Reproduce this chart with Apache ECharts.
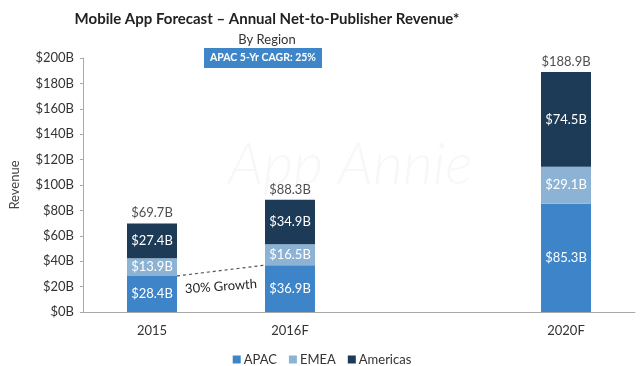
<!DOCTYPE html>
<html>
<head>
<meta charset="utf-8">
<script src="https://cdn.jsdelivr.net/npm/echarts@6/dist/echarts.min.js"></script>
<style>html,body{margin:0;padding:0;background:#fff;}#c{width:644px;height:366px;}</style>
</head>
<body>
<div id="c"></div>
<script>
var categories = ['2015', '2016F', '', '2020F'];
var apac = [28.4, 36.9, null, 85.3];
var emea = [13.9, 16.5, null, 29.1];
var americas = [27.4, 34.9, null, 74.5];
var totals = [69.7, 88.3, null, 188.9];
var yTicks = [0, 20, 40, 60, 80, 100, 120, 140, 160, 180, 200];

var FONT = 'Lato';
var BAR_W = 50;
var chart = echarts.init(document.getElementById('c'));

function fmt(p) { return p.value == null ? '' : '$' + p.value.toFixed(1) + 'B'; }
function inner() {
  return { show: true, position: 'inside', color: '#fff', fontFamily: FONT, fontSize: 13, formatter: fmt };
}

var baseGraphics = [
  { type: 'text', left: 228, top: 136, z: -10, silent: true,
    style: { text: 'App Annie', fontFamily: FONT, fontStyle: 'italic', fontWeight: 300, fontSize: 58, fill: 'rgba(0,0,0,0.03)' } },
  { type: 'group', left: 204, top: 48, children: [
    { type: 'rect', shape: { x: 0, y: 0, width: 118, height: 20 }, style: { fill: '#3f86c8' } },
    { type: 'text', x: 59, y: 10, style: { text: 'APAC 5-Yr CAGR: 25%', fill: '#fff', fontFamily: FONT, fontWeight: 'bold', fontSize: 10.5, align: 'center', verticalAlign: 'middle' } }
  ] }
];

var option = {
  backgroundColor: '#fff',
  animation: false,
  title: [
    { text: 'Mobile App Forecast \u2013 Annual Net-to-Publisher Revenue*', left: 262, top: 7, textAlign: 'center',
      textStyle: { fontFamily: FONT, fontWeight: 'bold', fontSize: 15, color: '#222' } },
    { text: 'By Region', left: 262, top: 28, textAlign: 'center',
      textStyle: { fontFamily: FONT, fontWeight: 'normal', fontSize: 13, color: '#333' } }
  ],
  legend: {
    data: ['APAC', 'EMEA', 'Americas'], top: 348, left: 'center', icon: 'rect',
    itemWidth: 8, itemHeight: 8, itemGap: 12,
    textStyle: { fontFamily: FONT, fontSize: 13, color: '#333', padding: [0, 0, 0, -2] }
  },
  grid: { left: 82, right: 9, top: 58, bottom: 54 },
  xAxis: {
    type: 'category', data: categories,
    axisLine: { lineStyle: { color: '#aaa' } }, axisTick: { show: false },
    axisLabel: { fontFamily: FONT, fontSize: 13, color: '#333', margin: 12 }
  },
  yAxis: {
    type: 'value', min: yTicks[0], max: yTicks[yTicks.length - 1], interval: 20,
    name: 'Revenue', nameLocation: 'middle', nameGap: 62, nameRotate: 90,
    nameTextStyle: { fontFamily: FONT, fontSize: 13, color: '#444' },
    axisLine: { show: true, lineStyle: { color: '#aaa' } },
    axisTick: { show: true, length: 3, lineStyle: { color: '#aaa' } },
    splitLine: { show: false },
    axisLabel: { fontFamily: FONT, fontSize: 13, color: '#333', margin: 9,
      formatter: function (v) { return '$' + v + 'B'; } }
  },
  series: [
    { name: 'APAC', type: 'bar', stack: 'r', data: apac, barWidth: BAR_W,
      itemStyle: { color: '#3d85c8' }, label: inner() },
    { name: 'EMEA', type: 'bar', stack: 'r', data: emea, barWidth: BAR_W,
      itemStyle: { color: '#8db3d4' }, label: inner() },
    { name: 'Americas', type: 'bar', stack: 'r', data: americas, barWidth: BAR_W,
      itemStyle: { color: '#1d3a56' }, label: inner() },
    { name: 'Total', type: 'scatter', data: totals, symbolSize: 0, silent: true,
      label: { show: true, position: 'top', distance: 4, color: '#222', fontFamily: FONT, fontSize: 13, formatter: fmt } }
  ],
  graphic: baseGraphics
};
chart.setOption(option);

// dashed growth line between APAC tops of 2015 and 2016F
var p1 = chart.convertToPixel({ seriesIndex: 0 }, [0, apac[0]]);
var p2 = chart.convertToPixel({ seriesIndex: 0 }, [1, apac[1]]);
var x1 = p1[0] + BAR_W / 2, x2 = p2[0] - BAR_W / 2;
var ang = Math.atan2(p1[1] - p2[1], x2 - x1);
chart.setOption({
  graphic: baseGraphics.concat([
    { type: 'line', shape: { x1: x1, y1: p1[1], x2: x2, y2: p2[1] },
      style: { stroke: '#555', lineWidth: 1.2, lineDash: [3, 3] } },
    { type: 'text', x: (x1 + x2) / 2, y: (p1[1] + p2[1]) / 2 + 16, rotation: ang * 0.6,
      style: { text: '30% Growth', fill: '#222', fontFamily: FONT, fontSize: 13, align: 'center', verticalAlign: 'middle' } }
  ])
}, { replaceMerge: ['graphic'] });
</script>
</body>
</html>
